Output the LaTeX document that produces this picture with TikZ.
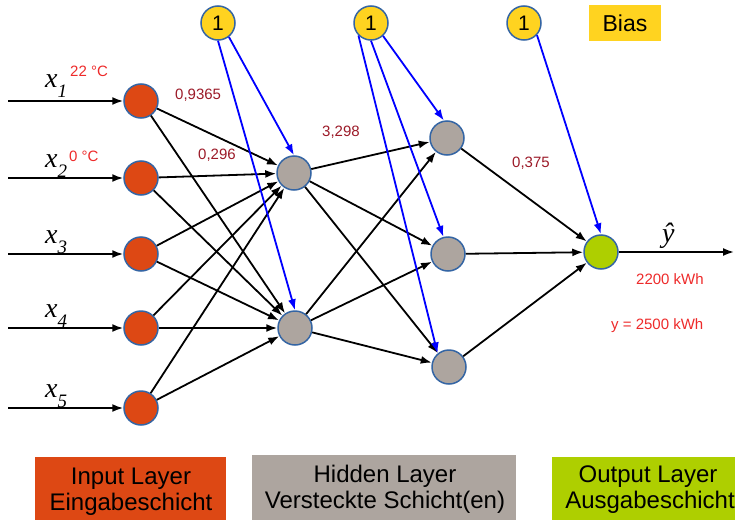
\documentclass[tikz,border=0pt]{standalone}
\usepackage{fontspec}
\setmainfont{Liberation Sans}
\newfontfamily\lserif{Liberation Serif}
\usetikzlibrary{arrows.meta}

\definecolor{inorange}{HTML}{DD4814}
\definecolor{hidgray}{HTML}{ADA59F}
\definecolor{outgreen}{HTML}{AECF00}
\definecolor{biasyellow}{HTML}{FFD320}
\definecolor{nborder}{HTML}{3465A4}
\definecolor{wred}{HTML}{9C1A28}
\definecolor{nred}{HTML}{EE2A2A}
\definecolor{biasblue}{HTML}{0000FF}

\newcommand{\xlab}[1]{{\lserif\itshape\fontsize{28}{28}\selectfont x}\raisebox{-10pt}{\lserif\itshape\fontsize{19}{19}\selectfont #1}}

\tikzset{
  neuron/.style={circle, draw=nborder, line width=1.5pt, minimum size=34pt, inner sep=0pt},
  innode/.style={neuron, fill=inorange},
  hidnode/.style={neuron, fill=hidgray},
  outnode/.style={neuron, fill=outgreen},
  biasnode/.style={neuron, fill=biasyellow, font=\fontsize{21}{21}\selectfont},
  conn/.style={line width=1.8pt, -{Latex[length=11pt,width=8pt]}},
  biasconn/.style={conn, draw=biasblue, color=biasblue},
  weight/.style={text=wred, font=\fontsize{15}{15}\selectfont, anchor=base west, inner sep=0pt},
  note/.style={text=nred, font=\fontsize{15}{15}\selectfont, anchor=base west, inner sep=0pt},
  xlabel/.style={anchor=base west, inner sep=0pt},
  layertext/.style={font=\fontsize{24}{24}\selectfont, anchor=base, inner sep=0pt},
}

\begin{document}
\begin{tikzpicture}[x=1pt, y=-1pt]
  % canvas
  \fill[white] (0,0) rectangle (735,519);
  \useasboundingbox (0,0) rectangle (735,519);

  % input layer
  \node[innode] (i1) at (141,101) {};
  \node[innode] (i2) at (141,178) {};
  \node[innode] (i3) at (141,254) {};
  \node[innode] (i4) at (141,328) {};
  \node[innode] (i5) at (141,408) {};

  % hidden layers
  \node[hidnode] (h1) at (294,173) {};
  \node[hidnode] (h2) at (295,328) {};
  \node[hidnode] (g1) at (447,138) {};
  \node[hidnode] (g2) at (448,254) {};
  \node[hidnode] (g3) at (449,367) {};

  % output
  \node[outnode] (o) at (601,252) {};

  % bias units
  \node[biasnode] (b1) at (218,23) {1};
  \node[biasnode] (b2) at (371,23) {1};
  \node[biasnode] (b3) at (524,23) {1};
  \fill[biasyellow] (589,5) rectangle (661,41);
  \node[font=\fontsize{23}{23}\selectfont, inner sep=0pt] (biaslab) at (625,23) {Bias};

  % input feeds
  \foreach \k/\yy in {1/101,2/178,3/254,4/328,5/408}{
    \coordinate (s\k) at (8,\yy);
    \draw[conn] (s\k) -- (i\k);
  }
  \node[xlabel] (x1) at (45,87) {\xlab{1}};
  \node[xlabel] (x2) at (45,167) {\xlab{2}};
  \node[xlabel] (x3) at (45,243) {\xlab{3}};
  \node[xlabel] (x4) at (45,317) {\xlab{4}};
  \node[xlabel] (x5) at (45,397) {\xlab{5}};
  \node[note] (t1) at (70,76) {22 °C};
  \node[note] (t2) at (69,161) {0 °C};

  % input -> first hidden layer
  \foreach \i in {1,...,5}{
    \foreach \h in {h1,h2}{
      \draw[conn] (i\i) -- (\h);
    }
  }
  % first hidden -> second hidden layer
  \foreach \h in {h1,h2}{
    \foreach \g in {g1,g2,g3}{
      \draw[conn] (\h) -- (\g);
    }
  }
  % second hidden -> output
  \foreach \g in {g1,g2,g3}{
    \draw[conn] (\g) -- (o);
  }

  % bias connections
  \draw[biasconn] (b1.-52) -- (h1.north);
  \draw[biasconn] (b1.south) -- (h2.north);
  \draw[biasconn] (b2.-47) -- (g1.100);
  \draw[biasconn] (b2.south) -- (g2.105);
  \draw[biasconn] (b2.-135) -- (g3.130);
  \draw[biasconn] (b3.-43) -- (o.north);

  % output
  \coordinate (yend) at (734,252);
  \draw[conn] (o) -- (yend);
  \node[xlabel] (yhat) at (662,242) {\lserif\itshape\fontsize{28}{28}\selectfont ŷ};
  \node[note] (pred) at (636,284) {2200 kWh};
  \node[note] (target) at (611,329) {y = 2500 kWh};

  % weights
  \node[weight] (w1) at (175,99) {0,9365};
  \node[weight] (w2) at (198,159) {0,296};
  \node[weight] (w3) at (322,136) {3,298};
  \node[weight] (w4) at (512,167) {0,375};

  % layer legend
  \fill[inorange] (35,457) rectangle (226,525);
  \fill[hidgray] (252,455) rectangle (516,525);
  \fill[outgreen] (552,457) rectangle (744,525);
  \node[layertext] (li1) at (131,484) {Input Layer};
  \node[layertext] (li2) at (131,510) {Eingabeschicht};
  \node[layertext] (lh1) at (385,482) {Hidden Layer};
  \node[layertext] (lh2) at (385,508) {Versteckte Schicht(en)};
  \node[layertext] (lo1) at (648,482) {Output Layer};
  \node[layertext] (lo2) at (650,508) {Ausgabeschicht};
\end{tikzpicture}
\end{document}
